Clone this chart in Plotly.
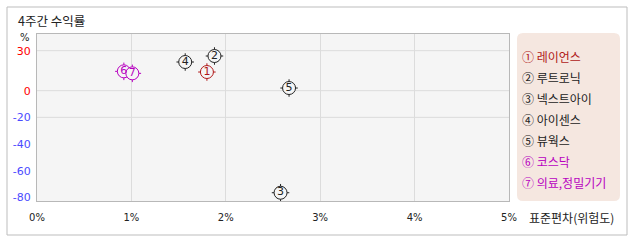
import plotly.graph_objects as go

# ---- data ----
labels = ["1", "2", "3", "4", "5", "6", "7"]
names = ["레이언스", "루트로닉", "넥스트아이", "아이센스", "뷰웍스", "코스닥", "의료,정밀기기"]
circled = ["①", "②", "③", "④", "⑤", "⑥", "⑦"]
std_dev = [1.80, 1.88, 2.58, 1.57, 2.67, 0.92, 1.01]
returns = [14.0, 26.0, -76.5, 21.5, 2.0, 14.5, 13.0]
colors = ["#b01818", "#222222", "#222222", "#222222", "#222222", "#b800c0", "#b800c0"]
x_ticks = [0, 1, 2, 3, 4, 5]
x_ticktext = ["0%", "1%", "2%", "3%", "4%", "5%"]
y_ticks = [30, 0, -20, -40, -60, -80]
y_colors = ["#ff0000", "#ff0000", "#4b4bff", "#4b4bff", "#4b4bff", "#4b4bff"]
y_grid = [30, 0, -20]

W, H = 638, 242
L, R, T, B = 37, 509, 34, 201
PW, PH = R - L, B - T

def px(xp):
    return (xp - L) / PW

def py(yp):
    return (B - yp) / PH

KR = "Noto Sans CJK KR"

fig = go.Figure()

# tick marks around the circles
fig.add_trace(go.Scatter(
    x=std_dev, y=returns, mode="markers", hoverinfo="skip",
    marker=dict(symbol="cross-thin-open", size=12.5, color=colors,
                line=dict(color=colors, width=1)),
    showlegend=False))
# circles
fig.add_trace(go.Scatter(
    x=std_dev, y=returns, mode="markers+text", text=labels,
    textposition="middle center",
    textfont=dict(family="DejaVu Sans", size=11, color=colors),
    marker=dict(symbol="circle", size=13, color="#f5f5f5",
                line=dict(color=colors, width=1)),
    showlegend=False))

shapes = []
# outer frame
shapes.append(dict(type="rect", xref="paper", yref="paper",
                   x0=px(7), x1=px(627), y0=py(235), y1=py(7),
                   line=dict(color="#bdbdbd", width=1), layer="below"))
# horizontal gridlines
for g in y_grid:
    shapes.append(dict(type="line", xref="paper", yref="y", x0=0, x1=1, y0=g, y1=g,
                       line=dict(color="#dcdcdc", width=1), layer="below"))
# legend box (rounded)
lx0, lx1, ly0, ly1 = px(517), px(620), py(201), py(33)
rx, ry = 6 / PW, 6 / PH
path = (f"M {lx0+rx},{ly1} L {lx1-rx},{ly1} Q {lx1},{ly1} {lx1},{ly1-ry} "
        f"L {lx1},{ly0+ry} Q {lx1},{ly0} {lx1-rx},{ly0} L {lx0+rx},{ly0} "
        f"Q {lx0},{ly0} {lx0},{ly0+ry} L {lx0},{ly1-ry} Q {lx0},{ly1} {lx0+rx},{ly1} Z")
shapes.append(dict(type="path", xref="paper", yref="paper", path=path,
                   fillcolor="#f5e7e0", line=dict(width=0), layer="below"))

annotations = []
annotations.append(dict(text="4주간 수익률", xref="paper", yref="paper",
                        x=px(16), y=py(20), xanchor="left", yanchor="middle",
                        showarrow=False, font=dict(family=KR, size=12.5, color="#222222")))
annotations.append(dict(text="%", xref="paper", yref="paper",
                        x=px(25), y=py(38), xanchor="center", yanchor="middle",
                        showarrow=False, font=dict(family="DejaVu Sans", size=10, color="#222222")))
annotations.append(dict(text="표준편차(위험도)", xref="paper", yref="paper",
                        x=px(527), y=py(217), xanchor="left", yanchor="middle",
                        showarrow=False, font=dict(family=KR, size=12, color="#222222")))
for i, (c, n, col) in enumerate(zip(circled, names, colors)):
    annotations.append(dict(text=f"{c} {n}", xref="paper", yref="paper",
                            x=px(520), y=py(56 + 21 * i), xanchor="left", yanchor="middle",
                            showarrow=False, font=dict(family=KR, size=12, color=col)))

fig.update_layout(
    width=W, height=H,
    margin=dict(l=L, r=W - R, t=T, b=H - B),
    paper_bgcolor="white", plot_bgcolor="#f5f5f5",
    shapes=shapes, annotations=annotations,
    xaxis=dict(range=[0, 5], tickvals=x_ticks, ticktext=x_ticktext,
               showgrid=True, gridcolor="#dcdcdc", zeroline=False,
               showline=True, linecolor="#b8b8b8", mirror=True,
               tickfont=dict(family="DejaVu Sans", size=10, color="#222222"),
               ticks="outside", ticklen=7, tickcolor="rgba(0,0,0,0)"),
    yaxis=dict(range=[-82.7, 42.5], tickvals=y_ticks,
               ticktext=[f"<span style='color:{c}'>{v}</span>" for v, c in zip(y_ticks, y_colors)],
               showgrid=False, zeroline=False,
               showline=True, linecolor="#b8b8b8", mirror=True,
               tickfont=dict(family="DejaVu Sans", size=11),
               ticks="outside", ticklen=3, tickcolor="rgba(0,0,0,0)"),
)

fig.write_html("out.html")
